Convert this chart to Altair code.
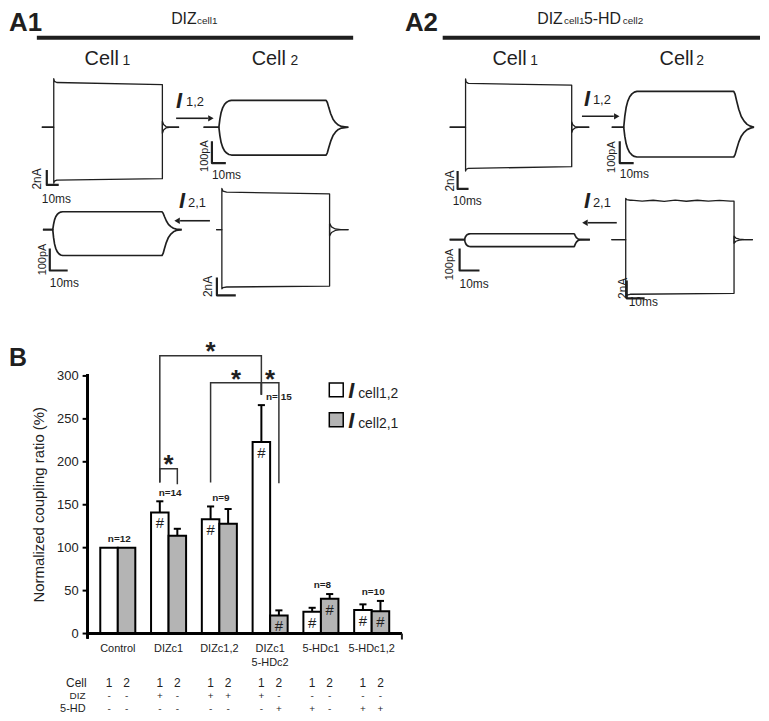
import altair as alt
import pandas as pd

FONT = "Liberation Sans"
INK = "#1f1f1f"
BAR_GRAY = "#b4b4b4"

# ------------------------------------------------------------------ data: panel B
conditions = ["Control", "DIZc1", "DIZc1,2", "DIZc1 5-HDc2", "5-HDc1", "5-HDc1,2"]
ratio_i12 = [100, 141, 133, 223, 25.5, 27.5]      # I cell1,2 (%)
sem_i12 = [0, 13, 15, 43, 4.5, 6.5]
ratio_i21 = [100, 114, 128, 21, 40.5, 26]         # I cell2,1 (%)
sem_i21 = [0, 8, 17, 6, 5.5, 12]
n_pairs = [12, 14, 9, 15, 8, 10]
hash_i12 = [False, True, True, True, True, True]
hash_i21 = [False, False, False, True, True, True]
diz_cell1 = ["-", "+", "+", "+", "-", "-"]
diz_cell2 = ["-", "-", "+", "-", "-", "-"]
hd_cell1 = ["-", "-", "-", "-", "+", "+"]
hd_cell2 = ["-", "-", "-", "+", "-", "+"]
y_ticks = [0, 50, 100, 150, 200, 250, 300]
# significance: (cond a, cell a, cond b, cell b, bracket top, leg end a, leg end b)
comparisons = [
    ("DIZc1", 1, "DIZc1 5-HDc2", 1, 323.5, 176, 278),
    ("DIZc1", 1, "DIZc1", 2, 192, 176, 174),
    ("DIZc1,2", 1, "DIZc1 5-HDc2", 1, 292, 176, 278),
    ("DIZc1 5-HDc2", 1, "DIZc1 5-HDc2", 2, 292, 278, 175),
]

# ------------------------------------------------------------------ data: panel A traces
# stimulated cell (nA): [onset peak, early plateau, late plateau]; times in ms
a1_cell1_step = dict(t_start=-10, dur=91, t_end=105, up=[6.5, 6.0, 5.7], down=[-7.5, -7.1, -6.9], tail=0.8)
a1_cell2_step = dict(t_start=-3, dur=57, t_end=67, up=[4.6, 4.2, 4.0], down=[-6.6, -6.4, -6.3], tail=0.7)
a2_cell1_step = dict(t_start=-14.5, dur=97, t_end=113, up=[5.4, 4.9, 4.7], down=[-4.9, -4.6, -4.4], tail=0.6)
a2_cell2_step = dict(t_start=-8, dur=60.5, t_end=71, up=[4.6, 4.4, 4.3], down=[-6.4, -6.1, -6.0], tail=0.4)
a2_cell2_ripple = [4.42, 4.30, 4.40, 4.28, 4.41, 4.29, 4.40, 4.30, 4.38, 4.31]
# coupled (junctional) currents in the partner cell (pA)
a1_i12 = dict(t_start=-11, dur=77, t_end=93, rise=9, decay=11, up=123, down=-127)
a1_i21 = dict(t_start=-5.5, dur=61, t_end=72, rise=5.5, decay=8, up=82, down=-118)
a2_i12 = dict(t_start=-8.6, dur=79, t_end=93.6, rise=9.5, decay=12, up=164, down=-136)
a2_i21 = dict(t_start=-7.5, dur=55, t_end=63, rise=3, decay=3, up=27, down=-32)
shape_steps = [0, 0.08, 0.18, 0.30, 0.45, 0.62, 0.80, 1.0]
rise_shape = [0, 0.30, 0.55, 0.72, 0.85, 0.93, 0.98, 1.0]
decay_shape = [1.0, 0.92, 0.72, 0.50, 0.30, 0.17, 0.08, 0.03]

# ------------------------------------------------------------------ layout
W, H = 316, 259          # plot area of panel B
OX, OY = 88, 376         # its top-left corner on the page (reference pixels)


def rx(x):
    return x - OX


def ry(y):
    return y - OY


# trace placement: pulse-onset x, baseline y, scale-bar corner x, y, 10 ms bar length, amplitude bar length (px)
trace_layout = {
    "a1_step1": (54, 126, 47, 184, 12, 15),
    "a1_i12": (220, 126, 213, 162, 14, 22),
    "a1_i21": (53, 229, 50, 270, 18, 22),
    "a1_step2": (223, 229, 218, 295, 19, 18),
    "a2_step1": (468, 126, 460, 188, 11, 18),
    "a2_i12": (627, 126, 623, 162, 14, 22),
    "a2_i21": (467, 239, 462, 270, 20, 22),
    "a2_step2": (629, 239, 630, 298, 18, 18),
}


def step_sweeps(p, ripple=None):
    ts, T, te = p["t_start"], p["dur"], p["t_end"]
    out = []
    for name, vals, sign in (("up", p["up"], 1), ("down", p["down"], -1)):
        pk, a0, a1 = vals
        tail = -sign * p["tail"]
        pts = [(ts, 0), (0, 0), (0, pk), (0.6, a0 + (pk - a0) * 0.3), (2.5, a0)]
        if ripple is not None and name == "up":
            n = len(ripple)
            pts += [(3 + (T - 5) * k / (n - 1), v) for k, v in enumerate(ripple)]
        pts += [(T, a1), (T, tail), (T + 1, tail * 0.45), (T + 3, tail * 0.12), (T + 6, 0), (te, 0)]
        out.append((name, pts, 1.3))
    return out


def coupled_sweeps(p):
    ts, T, te = p["t_start"], p["dur"], p["t_end"]
    out = []
    for name in ("up", "down"):
        amp = p[name]
        pts = [(ts, 0)]
        pts += [(u * p["rise"], f * amp) for u, f in zip(shape_steps, rise_shape)]
        pts += [(T + u * p["decay"], f * amp) for u, f in zip(shape_steps, decay_shape)]
        pts += [(te, 0)]
        out.append((name, pts, 1.7))
    return out


def trace_layer(sweeps, bar_amp, lay):
    ox, oy, cx, cy, lx, ly = lay
    kx, ky = lx / 10.0, ly / bar_amp
    oxr, oyr = rx(ox), ry(oy)
    rows = []
    for seg, pts, w in sweeps:
        for k, (t, i) in enumerate(pts):
            rows.append(dict(t=t, i=i, seg=seg, ord=k, w=w))
    tc, ic = (cx - ox) / kx, (oy - cy) / ky
    for k, (t, i) in enumerate([(tc, ic + bar_amp), (tc, ic), (tc + 10, ic)]):
        rows.append(dict(t=t, i=i, seg="bar", ord=k, w=2.2))
    xs = alt.Scale(domain=[-oxr / kx, (W - oxr) / kx], nice=False, zero=False)
    ys = alt.Scale(domain=[(oyr - H) / ky, oyr / ky], nice=False, zero=False)
    return alt.Chart(pd.DataFrame(rows)).mark_line(color=INK, strokeJoin="round").encode(
        x=alt.X("t:Q", scale=xs, axis=None),
        y=alt.Y("i:Q", scale=ys, axis=None),
        detail="seg:N",
        order="ord:Q",
        strokeWidth=alt.StrokeWidth("w:Q", scale=None, legend=None),
    )


traces = [
    trace_layer(step_sweeps(a1_cell1_step), 2, trace_layout["a1_step1"]),
    trace_layer(coupled_sweeps(a1_i12), 100, trace_layout["a1_i12"]),
    trace_layer(coupled_sweeps(a1_i21), 100, trace_layout["a1_i21"]),
    trace_layer(step_sweeps(a1_cell2_step), 2, trace_layout["a1_step2"]),
    trace_layer(step_sweeps(a2_cell1_step), 2, trace_layout["a2_step1"]),
    trace_layer(coupled_sweeps(a2_i12), 100, trace_layout["a2_i12"]),
    trace_layer(coupled_sweeps(a2_i21), 100, trace_layout["a2_i21"]),
    trace_layer(step_sweeps(a2_cell2_step, a2_cell2_ripple), 2, trace_layout["a2_step2"]),
]

# ------------------------------------------------------------------ panel B chart
HALF = 0.345   # bar width, in category steps
XS = alt.Scale(domain=[-0.595, 5.595], nice=False, zero=False)
YS = alt.Scale(domain=[0, 300], nice=False, zero=True)


def xpos(cond, cell):
    return conditions.index(cond) + (-HALF / 2 if cell == 1 else HALF / 2)


rows = []
for k, cond in enumerate(conditions):
    for cell, mean, sem, hsh, diz, hd in (
        (1, ratio_i12[k], sem_i12[k], hash_i12[k], diz_cell1[k], hd_cell1[k]),
        (2, ratio_i21[k], sem_i21[k], hash_i21[k], diz_cell2[k], hd_cell2[k]),
    ):
        xc = xpos(cond, cell)
        rows.append(dict(cond=cond, cell=str(cell), xc=xc, x0=xc - HALF / 2, x1=xc + HALF / 2,
                         cap0=xc - 0.07, cap1=xc + 0.07, mean=mean, upper=mean + sem, sem=sem,
                         base=0, hash="#" if hsh else "", diz=diz, hd=hd))
bars_df = pd.DataFrame(rows)
cond_df = pd.DataFrame({"k": list(range(len(conditions))), "cond": conditions})
tick_df = pd.DataFrame({"tick": y_ticks})


def X(f):
    return alt.X(f, scale=XS, axis=None)


def Y(f):
    return alt.Y(f, scale=YS, axis=None)


bars = alt.Chart(bars_df).mark_rect(stroke="black", strokeWidth=2).encode(
    x=X("x0:Q"), x2="x1:Q", y=Y("mean:Q"), y2="base:Q",
    fill=alt.Fill("cell:N", scale=alt.Scale(domain=["1", "2"], range=["white", BAR_GRAY]), legend=None),
)
err_base = alt.Chart(bars_df).transform_filter("datum.sem > 0")
err_lines = err_base.mark_rule(color="black", strokeWidth=2).encode(x=X("xc:Q"), y=Y("mean:Q"), y2="upper:Q")
err_caps = err_base.mark_rule(color="black", strokeWidth=2).encode(x=X("cap0:Q"), x2="cap1:Q", y=Y("upper:Q"))
hashes = alt.Chart(bars_df).transform_filter("datum.hash != ''").mark_text(
    fontSize=15, baseline="middle", dy=11, color=INK).encode(x=X("xc:Q"), y=Y("mean:Q"), text="hash:N")

n_rows = []
for k, cond in enumerate(conditions):
    top = max(ratio_i12[k] + sem_i12[k], ratio_i21[k] + sem_i21[k])
    crossed = cond == "DIZc1 5-HDc2"
    n_rows.append(dict(x=xpos(cond, 2) if crossed else k + 0.03, y=top + 10,
                       label=("n= %d" if crossed else "n=%d") % n_pairs[k]))
n_labels = alt.Chart(pd.DataFrame(n_rows)).mark_text(
    fontSize=10, fontWeight="bold", baseline="middle", color=INK).encode(x=X("x:Q"), y=Y("y:Q"), text="label:N")

br_rows, star_rows = [], []
for b, (ca, la, cb, lb, top, bot_a, bot_b) in enumerate(comparisons):
    xa, xb = xpos(ca, la), xpos(cb, lb)
    for o, (x, y) in enumerate([(xa, bot_a), (xa, top), (xb, top), (xb, bot_b)]):
        br_rows.append(dict(b=b, o=o, x=x, y=y))
    star_rows.append(dict(x=(xa + xb) / 2, y=top - 5.5))
brackets = alt.Chart(pd.DataFrame(br_rows)).mark_line(color="#333", strokeWidth=1.5).encode(
    x=X("x:Q"), y=Y("y:Q"), detail="b:N", order="o:Q")
stars = alt.Chart(pd.DataFrame(star_rows)).mark_text(
    text="*", fontSize=26, fontWeight="bold", baseline="alphabetic", color=INK).encode(x=X("x:Q"), y=Y("y:Q"))

# axes (drawn from the same scales)
y_domain = alt.Chart(tick_df).mark_rule(color="black", strokeWidth=2).encode(
    x=alt.value(0), y=alt.value(-2), y2=alt.value(H + 5))
x_domain = alt.Chart(tick_df).mark_rule(color="black", strokeWidth=2).encode(
    x=alt.value(0), x2=alt.value(W), y=alt.value(H))
y_tick_marks = alt.Chart(tick_df).mark_rule(color="black", strokeWidth=2).encode(
    x=alt.value(-5), x2=alt.value(0), y=Y("tick:Q"))
y_tick_labels = alt.Chart(tick_df).mark_text(fontSize=13, align="right", baseline="middle", color="#222").encode(
    x=alt.value(-9), y=Y("tick:Q"), text="tick:Q")
y_title = alt.Chart(tick_df.head(1)).mark_text(
    text="Normalized coupling ratio (%)", fontSize=15, angle=270, align="center", baseline="middle",
    color="#222").encode(x=alt.value(-49), y=alt.value(H / 2))
x_labels = alt.Chart(cond_df).transform_calculate(lines="split(datum.cond, ' ')").mark_text(
    fontSize=11, baseline="top", align="center", color="#222", lineHeight=14).encode(
    x=X("k:Q"), y=alt.value(H + 10), text="lines:N")

tab_cell = alt.Chart(bars_df).mark_text(fontSize=12, baseline="middle", color=INK).encode(
    x=X("xc:Q"), y=alt.value(309), text="cell:N")
tab_diz = alt.Chart(bars_df).mark_text(fontSize=10, baseline="middle", color=INK).encode(
    x=X("xc:Q"), y=alt.value(322), text="diz:N")
tab_hd = alt.Chart(bars_df).mark_text(fontSize=10, baseline="middle", color=INK).encode(
    x=X("xc:Q"), y=alt.value(335), text="hd:N")

panel_b = alt.layer(bars, err_lines, err_caps, hashes, n_labels, brackets, stars,
                    y_domain, x_domain, y_tick_marks, y_tick_labels, y_title, x_labels,
                    tab_cell, tab_diz, tab_hd)

# ------------------------------------------------------------------ annotations (reference pixels)
BI = ("bold", "italic")
N = ("normal", "normal")
annotations = [
    # text, x, y, size, weight, style, align, baseline, angle
    ("A1", 9, 29, 26, "bold", "normal", "left", "alphabetic", 0),
    ("A2", 407, 29, 26, "bold", "normal", "left", "alphabetic", 0),
    ("B", 9, 366, 25, "bold", "normal", "left", "alphabetic", 0),
    ("DIZ", 172, 22, 16, *N, "left", "alphabetic", 0),
    ("cell1", 198, 22, 10, *N, "left", "alphabetic", 0),
    ("DIZ", 540, 22, 16, *N, "left", "alphabetic", 0),
    ("cell1", 567, 22, 10, *N, "left", "alphabetic", 0),
    ("5-HD", 587, 22, 16, *N, "left", "alphabetic", 0),
    ("cell2", 626, 22, 10, *N, "left", "alphabetic", 0),
    ("Cell", 85, 63, 20, *N, "left", "alphabetic", 0),
    ("1", 123, 63, 14, *N, "left", "alphabetic", 0),
    ("Cell", 253, 63, 20, *N, "left", "alphabetic", 0),
    ("2", 292, 63, 14, *N, "left", "alphabetic", 0),
    ("Cell", 495, 63, 20, *N, "left", "alphabetic", 0),
    ("1", 533, 63, 14, *N, "left", "alphabetic", 0),
    ("Cell", 663, 63, 20, *N, "left", "alphabetic", 0),
    ("2", 700, 63, 14, *N, "left", "alphabetic", 0),
    ("I", 177, 107, 22, *BI, "left", "alphabetic", 0),
    ("1,2", 187, 105, 13, *N, "left", "alphabetic", 0),
    ("I", 180, 207, 22, *BI, "left", "alphabetic", 0),
    ("2,1", 189, 206, 13, *N, "left", "alphabetic", 0),
    ("I", 587, 105, 22, *BI, "left", "alphabetic", 0),
    ("1,2", 596, 103, 13, *N, "left", "alphabetic", 0),
    ("I", 587, 207, 22, *BI, "left", "alphabetic", 0),
    ("2,1", 596, 206, 13, *N, "left", "alphabetic", 0),
    ("2nA", 37, 178, 12, *N, "center", "middle", 270),
    ("100pA", 206, 155, 11, *N, "center", "middle", 270),
    ("100pA", 43, 259, 11, *N, "center", "middle", 270),
    ("2nA", 209, 286, 12, *N, "center", "middle", 270),
    ("2nA", 452, 180, 12, *N, "center", "middle", 270),
    ("100pA", 615, 156, 11, *N, "center", "middle", 270),
    ("100pA", 452, 264, 11, *N, "center", "middle", 270),
    ("2nA", 626, 288, 12, *N, "center", "middle", 270),
    ("10ms", 42, 202, 12, *N, "left", "alphabetic", 0),
    ("10ms", 213, 178, 12, *N, "left", "alphabetic", 0),
    ("10ms", 50, 287, 12, *N, "left", "alphabetic", 0),
    ("10ms", 455, 204, 12, *N, "left", "alphabetic", 0),
    ("10ms", 623, 177, 12, *N, "left", "alphabetic", 0),
    ("10ms", 462, 288, 12, *N, "left", "alphabetic", 0),
    ("10ms", 632, 306, 12, *N, "left", "alphabetic", 0),
    ("I", 350, 398, 22, *BI, "left", "alphabetic", 0),
    ("cell1,2", 360, 398, 14, *N, "left", "alphabetic", 0),
    ("I", 350, 428, 22, *BI, "left", "alphabetic", 0),
    ("cell2,1", 360, 428, 14, *N, "left", "alphabetic", 0),
    ("Cell", 87, 685, 12, *N, "right", "middle", 0),
    ("DIZ", 86, 698, 10, *N, "right", "middle", 0),
    ("5-HD", 86, 711, 11, *N, "right", "middle", 0),
]
ann_df = pd.DataFrame(annotations, columns=["text", "x", "y", "size", "weight", "style", "align", "baseline", "angle"])
ann_df["x"] = ann_df["x"].map(rx)
ann_df["y"] = ann_df["y"].map(ry)

PX = dict(scale=None, axis=None)
ann_layers = []
for (w, s, a, bl, ang), g in ann_df.groupby(["weight", "style", "align", "baseline", "angle"]):
    ann_layers.append(
        alt.Chart(g[["text", "x", "y", "size"]]).mark_text(
            fontWeight=w, fontStyle=s, align=a, baseline=bl, angle=int(ang), color=INK).encode(
            x=alt.X("x:Q", **PX), y=alt.Y("y:Q", **PX), text="text:N",
            size=alt.Size("size:Q", scale=None, legend=None))
    )

# straight rules: header bars, arrow shafts, x-axis end tick (reference pixels)
rules = [
    (37, 36, 355, 36, 4), (445, 36, 764, 36, 4),
    (177, 117, 209, 117, 1.6), (211, 220, 181, 220, 1.6),
    (585, 115, 617, 115, 1.6), (620, 222, 591, 222, 1.6),
    (404, 635, 404, 641, 2),
]
rules_df = pd.DataFrame(rules, columns=["x", "y", "x2", "y2", "w"])
for c in ("x", "x2"):
    rules_df[c] = rules_df[c].map(rx)
for c in ("y", "y2"):
    rules_df[c] = rules_df[c].map(ry)
rule_layer = alt.Chart(rules_df).mark_rule(color=INK).encode(
    x=alt.X("x:Q", **PX), y=alt.Y("y:Q", **PX), x2="x2:Q", y2="y2:Q",
    strokeWidth=alt.StrokeWidth("w:Q", scale=None, legend=None))

heads_df = pd.DataFrame([(212, 117, "triangle-right"), (178, 220, "triangle-left"),
                         (620, 115, "triangle-right"), (588, 222, "triangle-left")],
                        columns=["x", "y", "shape"])
heads_df["x"] = heads_df["x"].map(rx)
heads_df["y"] = heads_df["y"].map(ry)
head_layer = alt.Chart(heads_df).mark_point(filled=True, color=INK, size=40, opacity=1).encode(
    x=alt.X("x:Q", **PX), y=alt.Y("y:Q", **PX), shape=alt.Shape("shape:N", scale=None, legend=None))

legend_df = pd.DataFrame([(338, 390, "white"), (338, 420, BAR_GRAY)], columns=["x", "y", "fill"])
legend_df["x"] = legend_df["x"].map(rx)
legend_df["y"] = legend_df["y"].map(ry)
legend_layer = alt.Chart(legend_df).mark_square(size=196, stroke="black", strokeWidth=1.5, opacity=1).encode(
    x=alt.X("x:Q", **PX), y=alt.Y("y:Q", **PX), fill=alt.Fill("fill:N", scale=None, legend=None))

chart = alt.layer(panel_b, *traces, rule_layer, head_layer, legend_layer, *ann_layers).resolve_scale(
    x="independent", y="independent", fill="independent", strokeWidth="independent",
    size="independent", shape="independent",
).properties(
    width=W, height=H,
    autosize=alt.AutoSizeParams(type="none"),
    padding={"left": 80, "top": 368, "right": 361, "bottom": 80},
    background="white",
).configure(font=FONT).configure_view(stroke=None)

chart.save("out.html", embed_options={"renderer": "svg", "actions": False})
